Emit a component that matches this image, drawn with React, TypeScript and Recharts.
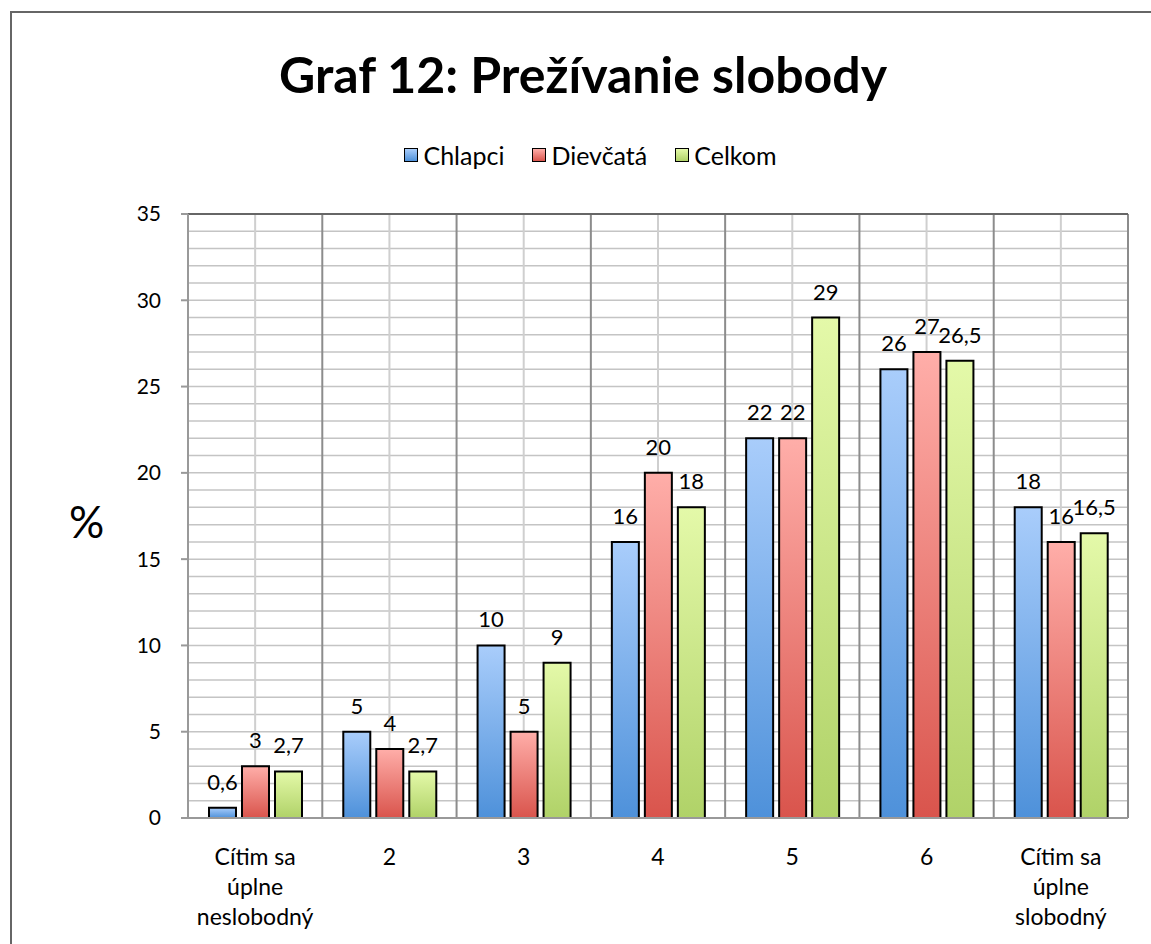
import React from "react";
import {
  BarChart,
  Bar,
  XAxis,
  YAxis,
  CartesianGrid,
  LabelList,
  Legend,
} from "recharts";

const categories = [
  "Cítim sa\núplne\nneslobodný",
  "2",
  "3",
  "4",
  "5",
  "6",
  "Cítim sa\núplne\nslobodný",
];
const chlapci = [0.6, 5, 10, 16, 22, 26, 18];
const dievcata = [3, 4, 5, 20, 22, 27, 16];
const celkom = [2.7, 2.7, 9, 18, 29, 26.5, 16.5];
const yTicks = [0, 5, 10, 15, 20, 25, 30, 35];
const yMax = 35;
const minorGrid = Array.from({ length: yMax + 1 }, (_, i) => i);

const seriesInfo = [
  { key: "chlapci", name: "Chlapci", grad: "gBlue", top: "#a9cdfb", bottom: "#4e91da" },
  { key: "dievcata", name: "Dievčatá", grad: "gRed", top: "#ffaea9", bottom: "#d9544c" },
  { key: "celkom", name: "Celkom", grad: "gGreen", top: "#e4f9a9", bottom: "#b0d268" },
];

const data = categories.map((c, i) => ({
  cat: c,
  chlapci: chlapci[i],
  dievcata: dievcata[i],
  celkom: celkom[i],
}));

const FONT = "Lato, 'Open Sans', sans-serif";
const fmt = (v: any) => String(v).replace(".", ",");

const isFn = (f: any) => typeof f === "function";

// grid positions from the axis scale when the generator gets one, else from the plot box
function bandEdges(xAxis: any, offset: any, mid: boolean) {
  const n = categories.length;
  const sc = xAxis?.scale;
  const bw = isFn(sc) && isFn(sc.bandwidth) ? sc.bandwidth() : offset.width / n;
  const start = (i: number) => (isFn(sc) ? sc(categories[i]) : offset.left + i * bw);
  if (mid) return categories.map((_, i) => start(i) + bw / 2);
  const pts = categories.map((_, i) => start(i));
  pts.push(start(n - 1) + bw);
  return pts;
}

function yPos(yAxis: any, offset: any, v: number) {
  const sc = yAxis?.scale;
  return isFn(sc) ? sc(v) : offset.top + offset.height * (1 - v / yMax);
}

function XTick({ x, y, payload }: any) {
  const lines = String(payload.value).split("\n");
  return (
    <text x={x} y={y} textAnchor="middle" fontFamily={FONT} fontSize={23} fill="#000">
      {lines.map((l, i) => (
        <tspan key={i} x={x} dy={i === 0 ? 39 : 30}>
          {l}
        </tspan>
      ))}
    </text>
  );
}

function LegendContent() {
  return (
    <div
      style={{
        display: "flex",
        justifyContent: "center",
        gap: 28,
        fontFamily: FONT,
        fontSize: 25,
        lineHeight: "28px",
        color: "#000",
        paddingLeft: 22,
      }}
    >
      {seriesInfo.map((s) => (
        <div key={s.key} style={{ display: "flex", alignItems: "center", gap: 5 }}>
          <span
            style={{
              width: 12,
              height: 12,
              border: "1.5px solid #000",
              background: `linear-gradient(${s.top}, ${s.bottom})`,
              display: "inline-block",
            }}
          />
          <span>{s.name}</span>
        </div>
      ))}
    </div>
  );
}

export default function App() {
  return (
    <div style={{ position: "fixed", left: 0, top: 0, width: 1151, height: 944, overflow: "hidden", background: "#fff" }}>
      {/* frame: only the top and left edges show in the picture */}
      <div style={{ position: "absolute", left: 10, top: 11, width: 1141, height: 2, background: "#666" }} />
      <div style={{ position: "absolute", left: 10, top: 11, width: 2, height: 933, background: "#666" }} />
      <div
        style={{
          position: "absolute",
          left: 8,
          width: 1150,
          top: 44,
          textAlign: "center",
          fontFamily: FONT,
          fontWeight: 700,
          fontSize: 50,
          color: "#000",
        }}
      >
        Graf 12: Prežívanie slobody
      </div>
      <div
        style={{
          position: "absolute",
          left: 69,
          top: 495,
          fontFamily: FONT,
          fontSize: 44,
          color: "#000",
        }}
      >
        %
      </div>
      <div style={{ position: "absolute", left: 8, top: 8 }}>
        <BarChart
          width={1143}
          height={928}
          data={data}
          margin={{ top: 206, right: 23, bottom: 88, left: 120 }}
          barSize={27}
          barGap={6}
        >
          <defs>
            {seriesInfo.map((s) => (
              <linearGradient key={s.grad} id={s.grad} x1="0" y1="0" x2="0" y2="1">
                <stop offset="0%" stopColor={s.top} />
                <stop offset="100%" stopColor={s.bottom} />
              </linearGradient>
            ))}
          </defs>
          <CartesianGrid
            vertical={false}
            stroke="#c4c4c4"
            strokeWidth={1.5}
            horizontalCoordinatesGenerator={({ yAxis, offset }: any) =>
              minorGrid.map((v) => yPos(yAxis, offset, v))
            }
          />
          <CartesianGrid
            horizontal={false}
            stroke="#cfcfcf"
            strokeWidth={2}
            verticalCoordinatesGenerator={({ xAxis, offset }: any) => bandEdges(xAxis, offset, true)}
          />
          <CartesianGrid
            horizontal={false}
            stroke="#8c8c8c"
            strokeWidth={2}
            verticalCoordinatesGenerator={({ xAxis, offset }: any) => bandEdges(xAxis, offset, false)}
          />
          <CartesianGrid
            vertical={false}
            stroke="#666"
            strokeWidth={2}
            horizontalCoordinatesGenerator={({ yAxis, offset }: any) => [yPos(yAxis, offset, yMax)]}
          />
          <XAxis
            dataKey="cat"
            tickLine={false}
            axisLine={{ stroke: "#999", strokeWidth: 2 }}
            tick={<XTick />}
            interval={0}
          />
          <YAxis
            width={60}
            domain={[0, yMax]}
            ticks={yTicks}
            interval={0}
            tickSize={7}
            tickMargin={20}
            tickLine={{ stroke: "#999", strokeWidth: 2 }}
            axisLine={{ stroke: "#999", strokeWidth: 2 }}
            tick={{ fontFamily: FONT, fontSize: 21, fill: "#000" }}
          />
          <Legend
            verticalAlign="top"
            content={<LegendContent />}
            height={0}
            wrapperStyle={{ top: 133, left: 0, width: 1143, height: 0, overflow: "visible" }}
          />
          {seriesInfo.map((s) => (
            <Bar
              key={s.key}
              dataKey={s.key}
              name={s.name}
              fill={`url(#${s.grad})`}
              stroke="#000"
              strokeWidth={2}
              isAnimationActive={false}
            >
              <LabelList
                dataKey={s.key}
                position="top"
                offset={18}
                formatter={fmt}
                style={{ fontFamily: FONT, fontSize: 22, fill: "#000" }}
              />
            </Bar>
          ))}
        </BarChart>
      </div>
    </div>
  );
}
